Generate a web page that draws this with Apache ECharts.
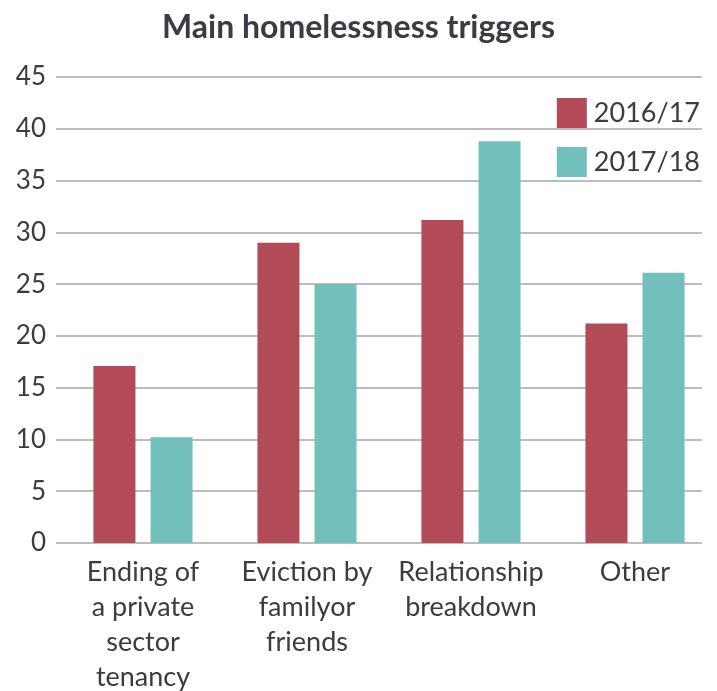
<!DOCTYPE html>
<html><head><meta charset="utf-8">
<script src="https://cdn.jsdelivr.net/npm/echarts@6/dist/echarts.min.js"></script>
<style>html,body{margin:0;padding:0;background:#fff}#c{width:717px;height:691px}</style>
</head><body><div id="c"></div>
<script>
const categories = ["Ending of\na private\nsector\ntenancy", "Eviction by\nfamilyor\nfriends", "Relationship\nbreakdown", "Other"];
const series2016 = [17.1, 29.0, 31.2, 21.2];
const series2017 = [10.2, 25.0, 38.8, 26.1];
const yTicks = [0, 5, 10, 15, 20, 25, 30, 35, 40, 45];

const font = 'Lato, "Noto Sans", sans-serif';
const textColor = '#3b3b45';
const chart = echarts.init(document.getElementById('c'), null, {renderer: 'canvas'});
chart.setOption({
  animation: false,
  backgroundColor: '#fff',
  title: {text: 'Main homelessness triggers', left: 'center', top: 7,
    textStyle: {fontFamily: font, fontWeight: 'bold', fontSize: 32, color: textColor}},
  legend: {orient: 'vertical', right: 12, top: 93, itemWidth: 30, itemHeight: 30, itemGap: 19,
    icon: 'rect', textStyle: {fontFamily: font, fontSize: 27, color: textColor, padding: [0,0,0,2]},
    data: ['2016/17', '2017/18']},
  grid: [
    {left: 56, right: 15, top: 77, bottom: 148, outerBoundsMode: 'none', containLabel: false},
    {left: 61, right: 0, top: 77, bottom: 148, outerBoundsMode: 'none', containLabel: false}
  ],
  xAxis: [
    {gridIndex: 0, type: 'value', show: false, min: 0, max: 1},
    {gridIndex: 1, type: 'category', data: categories,
      axisLine: {show: false}, axisTick: {show: false},
      axisLabel: {fontFamily: font, fontSize: 27, color: textColor, lineHeight: 35, margin: 12, interval: 0}}
  ],
  yAxis: [
    {gridIndex: 0, type: 'value', min: yTicks[0], max: yTicks[yTicks.length-1], interval: 5,
      axisLine: {show: false}, axisTick: {show: false},
      axisLabel: {fontFamily: font, fontSize: 26, color: textColor, margin: 10},
      splitLine: {lineStyle: {color: '#bbbdbd', width: 2}}},
    {gridIndex: 1, type: 'value', min: 0, max: 45, interval: 5, show: false, splitLine: {show: false}}
  ],
  series: [
    {name: '2016/17', type: 'bar', xAxisIndex: 1, yAxisIndex: 1, data: series2016,
      barWidth: 42, barGap: '36%', itemStyle: {color: '#b34a57'}},
    {name: '2017/18', type: 'bar', xAxisIndex: 1, yAxisIndex: 1, data: series2017,
      barWidth: 42, barGap: '36%', itemStyle: {color: '#72c0bc'}}
  ]
});
</script></body></html>
